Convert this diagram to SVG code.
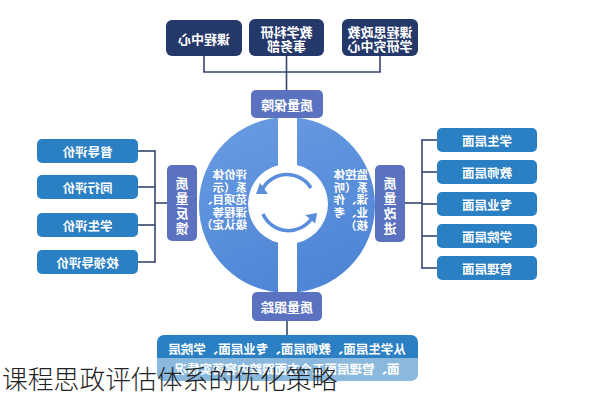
<svg xmlns="http://www.w3.org/2000/svg" width="593" height="400" viewBox="0 0 593 400">
<defs>
<linearGradient id="ringG" x1="0" y1="0" x2="0.4" y2="1">
<stop offset="0" stop-color="#6a9ce2"/>
<stop offset="1" stop-color="#4f86d6"/>
</linearGradient>
<style>
.navy{fill:#25386a;}
.qual{fill:#5a72c0;}
.lvl{fill:#2a80c2;}
.t{font-family:"Noto Sans CJK SC","Noto Sans",sans-serif;font-weight:bold;fill:#ffffff;text-anchor:middle;dominant-baseline:central;}
.ts{font-family:"Noto Sans CJK SC","Noto Sans",sans-serif;font-weight:bold;fill:#ffffff;text-anchor:start;dominant-baseline:central;font-size:11.5px;}
.ln{stroke:#34466f;stroke-width:1.6;fill:none;}
.arc{stroke:#5a8ddb;stroke-width:3.5;fill:none;}
</style>
</defs>
<rect width="593" height="400" fill="#ffffff"/>

<g id="connectors">
<line class="ln" x1="204" y1="56" x2="204" y2="72"/>
<line class="ln" x1="286.5" y1="56" x2="286.5" y2="90"/>
<line class="ln" x1="380" y1="56" x2="380" y2="72"/>
<line class="ln" x1="203.2" y1="72" x2="380.8" y2="72"/>
<line class="ln" x1="287" y1="321" x2="287" y2="335"/>
<line class="ln" x1="138" y1="151" x2="155" y2="151"/>
<line class="ln" x1="138" y1="187" x2="155" y2="187"/>
<line class="ln" x1="138" y1="225" x2="155" y2="225"/>
<line class="ln" x1="138" y1="262" x2="155" y2="262"/>
<line class="ln" x1="155" y1="150.2" x2="155" y2="262.8"/>
<line class="ln" x1="155" y1="203" x2="167" y2="203"/>
<line class="ln" x1="422" y1="140" x2="437" y2="140"/>
<line class="ln" x1="422" y1="172" x2="437" y2="172"/>
<line class="ln" x1="422" y1="204" x2="437" y2="204"/>
<line class="ln" x1="422" y1="236" x2="437" y2="236"/>
<line class="ln" x1="422" y1="268" x2="437" y2="268"/>
<line class="ln" x1="422" y1="139.2" x2="422" y2="268.8"/>
<line class="ln" x1="405" y1="203" x2="422" y2="203"/>
</g>

<g id="ring">
<circle cx="287" cy="205" r="88" fill="url(#ringG)"/>
<circle cx="288" cy="204" r="40" fill="#ffffff"/>
<rect x="278" y="115" width="19" height="180" fill="#ffffff"/>
<path class="arc" d="M262 190 A28 28 0 0 1 311 188"/>
<polygon points="256,194 268,194 260,183" fill="#5a8ddb"/>
<path class="arc" d="M263 214 A28 28 0 0 0 312 218"/>
<polygon points="306,214 318,214 314,224" fill="#5a8ddb" transform="rotate(-10 312 218)"/>
<text class="ts" transform="matrix(-1 0 0 1 494 0)"><tspan x="247" y="174">评价体</tspan><tspan x="247" y="186.5">系（示</tspan><tspan x="247" y="199">范项目、</tspan><tspan x="247" y="211.5">课程等</tspan><tspan x="247" y="224">级认定）</tspan></text>
<text class="ts" transform="matrix(-1 0 0 1 736 0)"><tspan x="368" y="174">监控体</tspan><tspan x="368" y="186.5">系（听</tspan><tspan x="368" y="199">课、作</tspan><tspan x="368" y="211.5">业、考</tspan><tspan x="368" y="225">核）</tspan></text>
</g>

<g id="n-kczx">
<rect class="navy" x="166" y="20" width="76" height="36" rx="6"/>
<text class="t" font-size="13" x="204" y="38" transform="matrix(-1 0 0 1 408 0)">课程中心</text>
</g>
<g id="n-jxky">
<rect class="navy" x="249" y="19" width="75" height="37" rx="6"/>
<text class="t" font-size="13" transform="matrix(-1 0 0 1 573 0)"><tspan x="286.5" y="31">教学科研</tspan><tspan x="286.5" y="45">事务部</tspan></text>
</g>
<g id="n-kcsz">
<rect class="navy" x="342" y="19" width="76" height="37" rx="6"/>
<text class="t" font-size="13" transform="matrix(-1 0 0 1 760 0)"><tspan x="380" y="31">课程思政教</tspan><tspan x="380" y="45">学研究中心</tspan></text>
</g>

<g id="n-zlbz">
<rect class="qual" x="251" y="90" width="72" height="28" rx="5"/>
<text class="t" font-size="13" x="287" y="104" transform="matrix(-1 0 0 1 574 0)">质量保障</text>
</g>
<g id="n-zlgz">
<rect class="qual" x="252" y="292" width="70" height="29" rx="5"/>
<text class="t" font-size="13" x="287" y="306.5" transform="matrix(-1 0 0 1 574 0)">质量跟踪</text>
</g>
<g id="n-zlfk">
<rect class="qual" x="167" y="165" width="30" height="76" rx="5"/>
<text class="t" font-size="13" transform="matrix(-1 0 0 1 364 0)"><tspan x="182" y="182">质</tspan><tspan x="182" y="197">量</tspan><tspan x="182" y="212">反</tspan><tspan x="182" y="227">馈</tspan></text>
</g>
<g id="n-zlgj">
<rect class="qual" x="375" y="165" width="30" height="77" rx="5"/>
<text class="t" font-size="13" transform="matrix(-1 0 0 1 780 0)"><tspan x="390" y="182">质</tspan><tspan x="390" y="197">量</tspan><tspan x="390" y="212">改</tspan><tspan x="390" y="227">进</tspan></text>
</g>

<g id="n-ddpj">
<rect class="lvl" x="37" y="139" width="101" height="24" rx="5"/>
<text class="t" font-size="12.5" x="87.5" y="151" transform="matrix(-1 0 0 1 175 0)">督导评价</text>
</g>
<g id="n-txpj">
<rect class="lvl" x="37" y="175" width="101" height="24" rx="5"/>
<text class="t" font-size="12.5" x="87.5" y="187" transform="matrix(-1 0 0 1 175 0)">同行评价</text>
</g>
<g id="n-xspj">
<rect class="lvl" x="37" y="213" width="101" height="24" rx="5"/>
<text class="t" font-size="12.5" x="87.5" y="225" transform="matrix(-1 0 0 1 175 0)">学生评价</text>
</g>
<g id="n-xldpj">
<rect class="lvl" x="37" y="250" width="101" height="24" rx="5"/>
<text class="t" font-size="12.5" x="87.5" y="262" transform="matrix(-1 0 0 1 175 0)">校领导评价</text>
</g>

<g id="n-xscm">
<rect class="lvl" x="437" y="128" width="100" height="24" rx="5"/>
<text class="t" font-size="12.5" x="487" y="140" transform="matrix(-1 0 0 1 974 0)">学生层面</text>
</g>
<g id="n-jscm">
<rect class="lvl" x="437" y="160" width="100" height="24" rx="5"/>
<text class="t" font-size="12.5" x="487" y="172" transform="matrix(-1 0 0 1 974 0)">教师层面</text>
</g>
<g id="n-zycm">
<rect class="lvl" x="437" y="192" width="100" height="24" rx="5"/>
<text class="t" font-size="12.5" x="487" y="204" transform="matrix(-1 0 0 1 974 0)">专业层面</text>
</g>
<g id="n-xycm">
<rect class="lvl" x="437" y="224" width="100" height="24" rx="5"/>
<text class="t" font-size="12.5" x="487" y="236" transform="matrix(-1 0 0 1 974 0)">学院层面</text>
</g>
<g id="n-glcm">
<rect class="lvl" x="437" y="256" width="100" height="24" rx="5"/>
<text class="t" font-size="12.5" x="487" y="268" transform="matrix(-1 0 0 1 974 0)">管理层面</text>
</g>

<g id="n-bottom">
<rect class="lvl" x="157" y="335" width="261" height="46" rx="7"/>
<text class="t" font-size="12.5" transform="matrix(-1 0 0 1 574 0)"><tspan x="287" y="348">从学生层面、教师层面、专业层面、学院层</tspan><tspan x="287" y="368">面、管理层面五个方面跟踪内容落实情况</tspan></text>
</g>

<rect x="0" y="358" width="593" height="42" fill="#ffffff" fill-opacity="0.45"/>
<text x="2" y="389" font-family="Noto Sans CJK SC, Noto Sans, sans-serif" font-size="25.8" font-weight="300" fill="#222222">课程思政评估体系的优化策略</text>
</svg>
